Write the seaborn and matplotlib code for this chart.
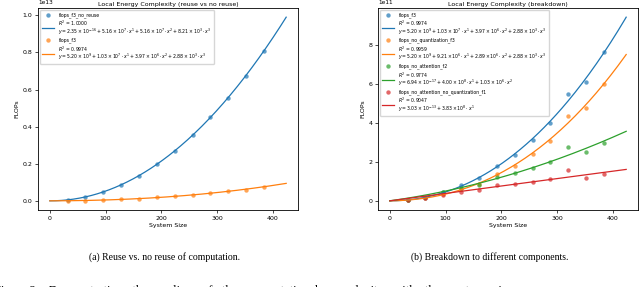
import numpy as np
import matplotlib
matplotlib.use("Agg")
import matplotlib.pyplot as plt
import seaborn as sns

# system sizes of the measured points
sizes = [32, 64, 96, 128, 160, 192, 224, 256, 288, 320, 352, 384]

# left panel (units of 1e13)
no_reuse = [0.005, 0.02, 0.048, 0.087, 0.136, 0.197, 0.27, 0.355, 0.45, 0.555, 0.675, 0.81]

# right panel (units of 1e11)
f3 = [0.05, 0.15, 0.45, 0.8, 1.15, 1.8, 2.35, 3.1, 4.0, 5.45, 6.1, 7.6]
no_quant = [0.05, 0.15, 0.35, 0.6, 0.85, 1.35, 1.8, 2.4, 3.05, 4.35, 4.75, 6.0]
no_att = [0.05, 0.2, 0.45, 0.65, 0.8, 1.2, 1.4, 1.7, 2.0, 2.75, 2.5, 2.95]
no_att_no_quant = [0.05, 0.15, 0.3, 0.45, 0.55, 0.8, 0.85, 0.95, 1.1, 1.6, 1.15, 1.35]

fit_labels = {
    'flops_f3_no_reuse': "$R^2$ = 1.0000\n$y = 2.35\\times10^{-16} + 5.16\\times10^{7}\\cdot x^1 + 5.16\\times10^{7}\\cdot x^2 + 8.21\\times10^{3}\\cdot x^3$",
    'flops_f3': "$R^2$ = 0.9974\n$y = 5.20\\times10^{9} + 1.03\\times10^{7}\\cdot x^1 + 3.97\\times10^{6}\\cdot x^2 + 2.88\\times10^{3}\\cdot x^3$",
    'flops_no_quantization_f3': "$R^2$ = 0.9959\n$y = 5.20\\times10^{9} + 9.21\\times10^{6}\\cdot x^1 + 2.89\\times10^{6}\\cdot x^2 + 2.88\\times10^{3}\\cdot x^3$",
    'flops_no_attention_f2': "$R^2$ = 0.9774\n$y = 6.94\\times10^{-17} + 4.00\\times10^{8}\\cdot x^1 + 1.03\\times10^{6}\\cdot x^2$",
    'flops_no_attention_no_quantization_f1': "$R^2$ = 0.9047\n$y = 3.03\\times10^{-13} + 3.83\\times10^{8}\\cdot x^1$",
}

plt.rcParams['font.size'] = 4.5
plt.rcParams['axes.linewidth'] = 0.6
plt.rcParams['xtick.major.width'] = 0.5
plt.rcParams['ytick.major.width'] = 0.5
plt.rcParams['xtick.major.size'] = 2
plt.rcParams['ytick.major.size'] = 2
plt.rcParams['xtick.major.pad'] = 2
plt.rcParams['ytick.major.pad'] = 2

pal = sns.color_palette('tab10')
xfit = np.linspace(0, 424, 200)


def draw(ax, name, ys, deg, color, scale):
    x = np.array(sizes, dtype=float)
    y = np.array(ys) * scale
    # least squares on x^1..x^deg (fit goes through the origin)
    basis = np.column_stack([x ** k for k in range(1, deg + 1)])
    coef, *_ = np.linalg.lstsq(basis, y, rcond=None)
    yfit = sum(c * xfit ** (k + 1) for k, c in enumerate(coef))
    sns.scatterplot(x=x, y=y, ax=ax, color=color, s=10, alpha=0.7, linewidth=0, label=name)
    sns.lineplot(x=xfit, y=yfit, ax=ax, color=color, linewidth=0.9,
                 estimator=None, label=fit_labels[name])


fig = plt.figure(figsize=(6.4, 2.87), dpi=100)
ax1 = fig.add_axes([38 / 640, 77 / 287, 260 / 640, 202 / 287])
ax2 = fig.add_axes([378 / 640, 77 / 287, 260 / 640, 202 / 287])

draw(ax1, 'flops_f3_no_reuse', no_reuse, 3, pal[0], 1e13)
draw(ax1, 'flops_f3', f3, 3, pal[1], 1e11)
ax1.set_title('Local Energy Complexity (reuse vs no reuse)', fontsize=4.5, pad=1.5)

draw(ax2, 'flops_f3', f3, 3, pal[0], 1e11)
draw(ax2, 'flops_no_quantization_f3', no_quant, 3, pal[1], 1e11)
draw(ax2, 'flops_no_attention_f2', no_att, 2, pal[2], 1e11)
draw(ax2, 'flops_no_attention_no_quantization_f1', no_att_no_quant, 1, pal[3], 1e11)
ax2.set_title('Local Energy Complexity (breakdown)', fontsize=4.5, pad=1.5)

for ax in (ax1, ax2):
    ax.set_xlabel('System Size', fontsize=4.5, labelpad=1.5)
    ax.set_ylabel('FLOPs', fontsize=4.5, labelpad=2)
    ax.set_xticks([0, 100, 200, 300, 400])
    ax.tick_params(labelsize=4.5)
    ax.yaxis.get_offset_text().set_fontsize(4.2)
    leg = ax.legend(loc='upper left', fontsize=3.3, frameon=True, borderpad=0.35,
                    labelspacing=0.25, handlelength=2.6, handletextpad=1.0,
                    borderaxespad=0.5)
    for t in leg.get_texts():
        t.set_linespacing(0.75)

ax1.set_yticks([0, 0.2e13, 0.4e13, 0.6e13, 0.8e13, 1.0e13])
ax2.set_yticks([0, 2e11, 4e11, 6e11, 8e11])

fig.text(165 / 640, 1 - 257 / 287, '(a) Reuse vs. no reuse of computation.',
         ha='center', va='center', fontsize=7, family='Liberation Serif')
fig.text(490 / 640, 1 - 257 / 287, '(b) Breakdown to different components.',
         ha='center', va='center', fontsize=7, family='Liberation Serif')
fig.text(-6 / 640, -7 / 287, 'Figure 2:   Demonstrating   the   scaling   of   the   computational   complexity   with   the   system   size.',
         ha='left', va='baseline', fontsize=9, family='Liberation Serif')

fig.savefig('out.png', dpi=100)
